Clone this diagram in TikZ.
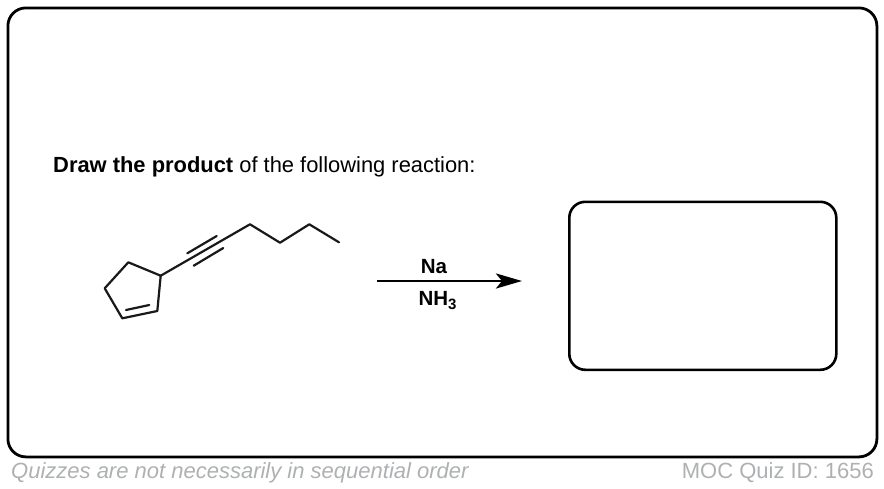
\documentclass[tikz,border=0pt]{standalone}
\usepackage{fontspec}
\setmainfont{Liberation Sans}
\usetikzlibrary{arrows.meta}
\definecolor{footgrey}{HTML}{AEB0B2}
\tikzset{
  x=1pt,y=-1pt,
  framebox/.style={draw=black,rounded corners=18pt,line width=2.8pt},
  answerbox/.style={draw=black,rounded corners=16pt,line width=2.6pt},
  bond/.style={draw=black!90,line width=2.2pt,line cap=round,line join=round},
  reagent/.style={font=\fontsize{20.5}{20.5}\selectfont\bfseries,inner sep=0pt},
  foot/.style={font=\fontsize{22}{22}\selectfont,text=footgrey,inner sep=0pt},
}
\begin{document}
\begin{tikzpicture}
\useasboundingbox (0,0) rectangle (884,488);
\node[framebox,minimum width=869pt,minimum height=449pt,anchor=north west] (frame) at (6.5,6.5) {};
\node[answerbox,minimum width=267pt,minimum height=168pt,anchor=north west] (answer) at (568,200.5) {};
\node[anchor=base west,inner sep=0pt,font=\fontsize{21.9}{21.9}\selectfont] (prompt) at (53,172) {\textbf{Draw the product} of the following reaction:};
% molecule
\coordinate (c1) at (160.7,275.7);
\coordinate (c2) at (128.3,262.3);
\coordinate (c3) at (104.7,288.3);
\coordinate (c4) at (122.3,318.3);
\coordinate (c5) at (157.3,311);
\coordinate (d1) at (126,310);
\coordinate (d2) at (149.3,305);
\coordinate (c6) at (250,224.3);
\coordinate (t1) at (187.3,253.3);
\coordinate (t2) at (216.7,236);
\coordinate (t3) at (193.7,265.7);
\coordinate (t4) at (223.3,248);
\coordinate (c7) at (280,242.7);
\coordinate (c8) at (309.3,224.3);
\coordinate (c9) at (339,242.3);
\draw[bond] (c1) -- (c2) -- (c3) -- (c4) -- (c5) -- cycle;
\draw[bond] (d1) -- (d2);
\draw[bond] (c1) -- (c6) -- (c7) -- (c8) -- (c9);
\draw[bond] (t1) -- (t2);
\draw[bond] (t3) -- (t4);
% reaction arrow
\coordinate (arrowstart) at (377,281);
\coordinate (arrowend) at (522,281);
\draw[line width=2.8pt,-{Stealth[length=26pt,width=15pt,inset=6pt]}] (arrowstart) -- (arrowend);
\node[reagent,anchor=base] (na) at (434,273) {Na};
\node[reagent,anchor=base] (nh) at (437.5,305) {NH\raisebox{-4.5pt}{\fontsize{15}{15}\selectfont 3}};
% footer
\node[foot,anchor=base west] (quiz) at (11,478) {\itshape Quizzes are not necessarily in sequential order};
\node[foot,anchor=base east] (id) at (874,478) {MOC Quiz ID: 1656};
\end{tikzpicture}
\end{document}
